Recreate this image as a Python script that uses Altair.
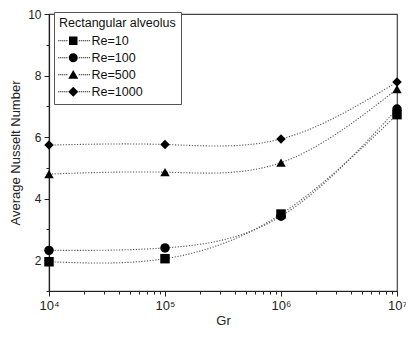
import altair as alt
import pandas as pd

# ---- data ----
gr = [1e4, 1e5, 1e6, 1e7]
series_names = ["Re=10", "Re=100", "Re=500", "Re=1000"]
re10 = [1.95, 2.05, 3.50, 6.73]
re100 = [2.32, 2.40, 3.43, 6.91]
re500 = [4.80, 4.86, 5.17, 7.56]
re1000 = [5.74, 5.76, 5.94, 7.79]
series_values = [re10, re100, re500, re1000]

x_ticks = [m * 10 ** e for e in range(4, 7) for m in range(1, 10)] + [1e7]
y_ticks = [1, 2, 3, 4, 5, 6, 7, 8, 9, 10]

rows = []
for name, vals in zip(series_names, series_values):
    for g, v in zip(gr, vals):
        rows.append({"Gr": g, "Nu": v, "series": name})
df = pd.DataFrame(rows)

# legend-only rows (placed outside the x domain and clipped)
leg_df = pd.DataFrame({"Gr": [1e3] * 4, "Nu": [5] * 4, "legend": series_names})

FONT = "Liberation Sans"


def dots(x0, x1, step=0.4, w=0.22):
    out = []
    x = x0
    while x <= x1 + 1e-9:
        out.append(f"M{x:.2f},-0.11h{w}v{w}h-{w}z")
        x += step
    return "".join(out)


line_part = dots(-3.0, -1.1) + dots(1.1, 3.1)
legend_paths = [
    "M-0.85,-0.85H0.85V0.85H-0.85Z" + line_part,
    "M0.9,0A0.9,0.9 0 1,1 -0.9,0A0.9,0.9 0 1,1 0.9,0Z" + line_part,
    "M0,-0.95L1,0.8L-1,0.8Z" + line_part,
    "M0,-1L1,0L0,1L-1,0Z" + line_part,
]

x_scale = alt.Scale(type="log", domain=[1e4, 1e7], nice=False)
y_scale = alt.Scale(domain=[1, 10], nice=False, zero=False)

major_test = "indexof([10000,100000,1000000,10000000], datum.value) >= 0"

x_axis = alt.Axis(
    values=x_ticks,
    labelExpr="datum.value==10000?'10⁴':datum.value==100000?'10⁵':datum.value==1000000?'10⁶':datum.value==10000000?'10⁷':''",
    tickSize={"condition": {"test": major_test, "value": 5}, "value": 3},
    grid=False,
    title="Gr",
    titlePadding=2,
    labelPadding=3,
    labelFlush=False,
    labelFontSize=13,
)
y_axis = alt.Axis(
    values=y_ticks,
    labelExpr="datum.value==2?'2':datum.value==4?'4':datum.value==6?'6':datum.value==8?'8':datum.value==10?'10':''",
    tickSize={"condition": {"test": "datum.value % 2 == 0", "value": 5}, "value": 3},
    labelOverlap=False,
    labels=True,
    labelFontSize=12,
    labelColor="#222222",
    grid=False,
    title="Average Nusselt Number",
    titlePadding=5,
    labelPadding=3,
)

X = alt.X("Gr:Q", scale=x_scale, axis=x_axis)
Y = alt.Y("Nu:Q", scale=y_scale, axis=y_axis)

base = alt.Chart(df)

lines = base.mark_line(
    interpolate="natural", color="#555555", strokeDash=[1.2, 1.6], strokeWidth=1.1
).encode(x=X, y=Y, detail="series:N")

points = base.mark_point(filled=True, color="black", opacity=1, size=90).encode(
    x=X,
    y=Y,
    shape=alt.Shape(
        "series:N",
        scale=alt.Scale(domain=series_names, range=["square", "circle", "triangle-up", "diamond"]),
        legend=None,
    ),
)

legend_layer = alt.Chart(leg_df).mark_point(filled=True, color="black", opacity=1, clip=True).encode(
    x=X,
    y=Y,
    shape=alt.Shape(
        "legend:N",
        scale=alt.Scale(domain=series_names, range=legend_paths),
        legend=alt.Legend(
            title="Rectangular alveolus",
            orient="none",
            legendX=5,
            legendY=-2,
            padding=5,
            strokeColor="#555555",
            fillColor="white",
            symbolSize=100,
            symbolOffset=8,
            labelOffset=12,
            rowPadding=4,
            symbolStrokeWidth=0,
            symbolFillColor="black",
            titleFontWeight="normal",
            titleFontSize=12.5,
            titleFont=FONT,
            titleColor="#111111",
            titlePadding=5,
            labelFontSize=12.5,
            labelFont=FONT,
            labelColor="#111111",
        ),
    ),
)

chart = (
    alt.layer(lines, points, legend_layer)
    .resolve_scale(shape="independent")
    .properties(
        width=348,
        height=277,
        autosize=alt.AutoSizeParams(type="none"),
        padding={"left": 41, "top": 6, "right": 9, "bottom": 38},
    )
    .configure_view(stroke="#444444", strokeWidth=1.2)
    .configure_legend(strokeWidth=1)
    .configure_axis(
        domainColor="#222222",
        domainWidth=1.2,
        tickColor="#222222",
        tickWidth=1,
        labelFont=FONT,
        labelFontSize=12,
        labelColor="#222222",
        titleFont=FONT,
        titleFontSize=13,
        titleFontWeight="normal",
        titleColor="#222222",
    )
)

chart.save("out.html", embed_options={"renderer": "svg", "actions": False})
